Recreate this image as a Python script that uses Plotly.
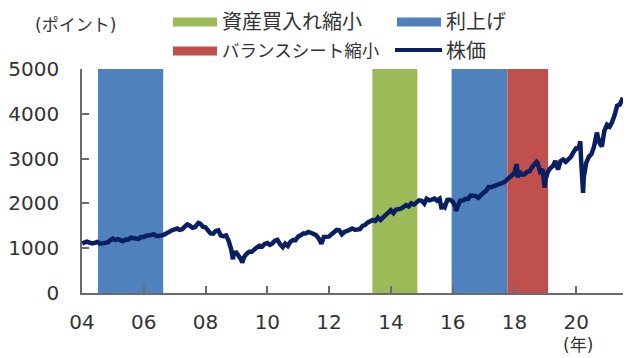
import plotly.graph_objects as go
import pandas as pd

# S&P 500 month-end closes (points)
sp_2004 = [1131, 1145, 1126, 1107, 1121, 1141, 1102, 1104, 1115, 1130, 1174, 1212]
sp_2005 = [1181, 1204, 1181, 1157, 1192, 1191, 1234, 1220, 1229, 1207, 1249, 1248]
sp_2006 = [1280, 1281, 1295, 1311, 1270, 1270, 1277, 1304, 1336, 1378, 1401, 1418]
sp_2007 = [1438, 1407, 1421, 1482, 1531, 1503, 1455, 1474, 1527, 1549, 1481, 1468]
sp_2008 = [1379, 1331, 1323, 1386, 1400, 1280, 1267, 1283, 1166, 969, 896, 903]
sp_2009 = [826, 735, 798, 873, 919, 919, 987, 1021, 1057, 1036, 1096, 1115]
sp_2010 = [1074, 1104, 1169, 1187, 1089, 1031, 1102, 1049, 1141, 1183, 1181, 1258]
sp_2011 = [1286, 1327, 1326, 1364, 1345, 1321, 1292, 1219, 1131, 1253, 1247, 1258]
sp_2012 = [1312, 1366, 1408, 1398, 1310, 1362, 1379, 1407, 1441, 1412, 1416, 1426]
sp_2013 = [1498, 1515, 1569, 1598, 1631, 1606, 1686, 1633, 1682, 1757, 1806, 1848]
sp_2014 = [1783, 1859, 1872, 1884, 1924, 1960, 1931, 2003, 1972, 2018, 2068, 2059]
sp_2015 = [1995, 2105, 2068, 2086, 2107, 2063, 2104, 1972, 1920, 2079, 2080, 2044]
sp_2016 = [1940, 1932, 2060, 2065, 2097, 2099, 2174, 2171, 2168, 2126, 2199, 2239]
sp_2017 = [2279, 2364, 2363, 2384, 2412, 2423, 2470, 2472, 2519, 2575, 2648, 2674]
sp_2018 = [2824, 2714, 2641, 2648, 2705, 2718, 2816, 2902, 2914, 2712, 2760, 2507]
sp_2019 = [2704, 2784, 2834, 2946, 2752, 2942, 2980, 2926, 2977, 3038, 3141, 3231]
sp_2020 = [3226, 2954, 2585, 2912, 3044, 3100, 3271, 3500, 3363, 3270, 3622, 3756]
sp_2021 = [3714, 3811, 3973, 4181, 4204, 4298]

# notable intra-month closes (points)
extra_dates = ["2004-01-02", "2007-10-09", "2008-11-20", "2009-03-09", "2010-07-02",
               "2011-10-03", "2015-08-25", "2016-02-11", "2018-01-26", "2018-02-08",
               "2018-09-20", "2018-12-24", "2020-02-19", "2020-03-23", "2020-09-02",
               "2021-07-07"]
extra_values = [1108, 1565, 752, 677, 1022, 1099, 1868, 1829, 2873, 2581,
                2931, 2351, 3386, 2237, 3580, 4358]

# policy periods
period_labels = ["利上げ", "資産買入れ縮小", "利上げ", "バランスシート縮小"]
period_starts = ["2004-07-08", "2013-05-27", "2015-12-20", "2017-10-09"]
period_ends = ["2006-08-18", "2014-11-10", "2017-10-09", "2019-02-03"]

legend_labels = ["資産買入れ縮小", "利上げ", "バランスシート縮小", "株価"]

year_ticks = ["2004", "2006", "2008", "2010", "2012", "2014", "2016", "2018", "2020"]
year_labels = ["04", "06", "08", "10", "12", "14", "16", "18", "20"]
y_ticks = [0, 1000, 2000, 3000, 4000, 5000]

colors = {"利上げ": "#4F81BD", "資産買入れ縮小": "#9BBB59",
          "バランスシート縮小": "#C0504D", "株価": "#0A1F62"}

monthly = (sp_2004 + sp_2005 + sp_2006 + sp_2007 + sp_2008 + sp_2009 + sp_2010 + sp_2011
           + sp_2012 + sp_2013 + sp_2014 + sp_2015 + sp_2016 + sp_2017 + sp_2018
           + sp_2019 + sp_2020 + sp_2021)
month_dates = pd.date_range("2004-01-31", periods=len(monthly), freq="ME")
s = pd.concat([pd.Series(monthly, index=month_dates),
               pd.Series(extra_values, index=pd.to_datetime(extra_dates))]).sort_index()

FONT = "DejaVu Sans, Noto Sans CJK JP, sans-serif"
TXT = "#333333"
AX = "#6b6b6b"

fig = go.Figure()
fig.add_trace(go.Scatter(x=s.index, y=s.values, mode="lines",
                         line=dict(color=colors["株価"], width=4.5),
                         showlegend=False, hoverinfo="skip"))

for lab, x0, x1 in zip(period_labels, period_starts, period_ends):
    fig.add_shape(type="rect", xref="x", yref="y", x0=x0, x1=x1, y0=0, y1=5000,
                  fillcolor=colors[lab], line=dict(width=0), layer="below")

# page offset of the figure (default body margin)
OFF = 8
W, H = 640 - OFF, 358 - OFF
# plot area in page pixels: x 82..623, y 69..293
L, R, T, B = 82, 623, 69, 293
def px(x):
    return (x - L) / (R - L)
def py(y):
    return (B - y) / (B - T)

# custom legend (wide swatches like the original)
leg_pos = [(173, 22), (397, 22), (173, 51), (397, 51)]
leg_size = [20, 20, 17.5, 20]
for lab, (lx, ly), fs in zip(legend_labels, leg_pos, leg_size):
    if lab == "株価":
        fig.add_shape(type="line", xref="paper", yref="paper",
                      x0=px(lx - 2), x1=px(lx + 45), y0=py(ly - 1), y1=py(ly - 1),
                      line=dict(color=colors[lab], width=4))
    else:
        fig.add_shape(type="rect", xref="paper", yref="paper",
                      x0=px(lx), x1=px(lx + 44), y0=py(ly - 4.5), y1=py(ly + 4.5),
                      fillcolor=colors[lab], line=dict(width=0))
    fig.add_annotation(xref="paper", yref="paper", x=px(lx + 47), y=py(ly),
                       text=lab, showarrow=False, xanchor="left", yanchor="middle",
                       font=dict(size=fs, color=TXT, family=FONT))

fig.add_annotation(xref="paper", yref="paper", x=px(75), y=py(25), text="(ポイント)",
                   showarrow=False, xanchor="center", yanchor="middle",
                   font=dict(size=17, color=TXT, family=FONT))
fig.add_annotation(xref="paper", yref="paper", x=px(578), y=py(345), text="(年)",
                   showarrow=False, xanchor="center", yanchor="middle",
                   font=dict(size=17, color=TXT, family=FONT))

fig.update_xaxes(type="date", range=["2004-01-01", "2021-07-08"],
                 tickvals=year_ticks, ticktext=year_labels, automargin=False,
                 ticks="inside", ticklen=7, tickwidth=1.5, tickcolor=AX,
                 showline=True, linecolor=AX, linewidth=1.5,
                 showgrid=False, zeroline=False, ticklabelstandoff=10,
                 tickfont=dict(size=20, color=TXT, family=FONT))
fig.update_yaxes(range=[0, 5000], tickvals=y_ticks, automargin=False,
                 ticks="inside", ticklen=7, tickwidth=1.5, tickcolor=AX,
                 showline=True, linecolor=AX, linewidth=1.5,
                 showgrid=False, zeroline=False, ticklabelstandoff=17,
                 tickfont=dict(size=20, color=TXT, family=FONT))

fig.update_layout(width=W, height=H,
                  margin=dict(l=L - OFF, r=W - (R - OFF), t=T - OFF, b=H - (B - OFF)),
                  plot_bgcolor="white", paper_bgcolor="white", showlegend=False)

fig.write_html("out.html")
